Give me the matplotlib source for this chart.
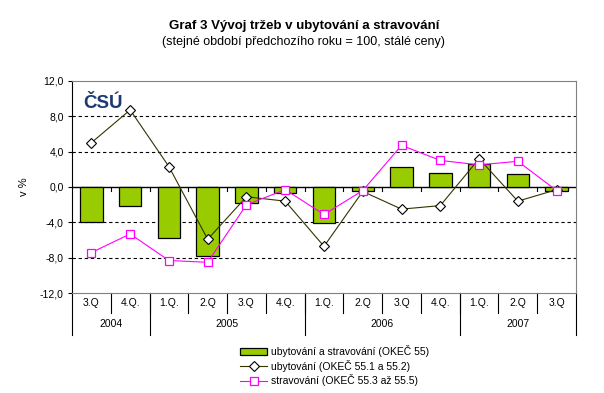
import matplotlib.pyplot as plt
import matplotlib.transforms as mtransforms
import numpy as np

plt.rcParams['font.family'] = ['Liberation Sans', 'DejaVu Sans']

# quarter labels and years
quarters = ["3.Q", "4.Q.", "1.Q.", "2.Q", "3.Q", "4.Q.", "1.Q.",
            "2.Q", "3.Q", "4.Q.", "1.Q.", "2.Q", "3.Q"]
years = ["2004", "2005", "2006", "2007"]
year_counts = [2, 4, 4, 3]

# values (y/y index - 100, %)
total = [-4.0, -2.1, -5.8, -7.8, -1.8, -0.7, -4.1, -0.4, 2.3, 1.6, 2.6, 1.5, -0.4]
ubytovani = [5.0, 8.7, 2.3, -5.9, -1.1, -1.6, -6.7, -0.5, -2.5, -2.1, 3.2, -1.6, -0.3]
stravovani = [-7.4, -5.3, -8.3, -8.5, -2.0, -0.3, -3.1, -0.4, 4.7, 3.0, 2.5, 2.9, -0.4]

fig = plt.figure(figsize=(6.04, 3.93), dpi=100)
ax = fig.add_axes([72 / 604, 1 - 293.3 / 393, 504 / 604, 212.6 / 393])

x = np.arange(len(quarters))
bars = ax.bar(x, total, width=0.58, color="#99CC00", edgecolor="black", linewidth=0.9,
              label="ubytování a stravování (OKEČ 55)", zorder=3)
l1, = ax.plot(x, ubytovani, color="#333300", lw=0.8, marker="D", ms=4.8,
              mfc="white", mec="black", mew=0.8,
              label="ubytování (OKEČ 55.1 a 55.2)", zorder=4)
l2, = ax.plot(x, stravovani, color="#FF00FF", lw=0.8, marker="s", ms=5.5,
              mfc="white", mec="#FF00FF", mew=0.9,
              label="stravování (OKEČ 55.3 až 55.5)", zorder=5)

ax.set_xlim(-0.5, len(quarters) - 0.5)
ax.set_ylim(-12, 12)
yt = np.arange(-12, 13, 4)
ax.set_yticks(yt)
ax.set_yticklabels([f"{v:.1f}".replace(".", ",") for v in yt], fontsize=7.5)
ax.tick_params(axis="y", length=3, width=0.8, pad=3)
for v in [-8, -4, 4, 8]:
    ax.axhline(v, color="black", lw=0.8, ls=(0, (3, 2.5)), zorder=1)
ax.axhline(0, color="black", lw=1.0, zorder=2)
ax.set_xticks([])
ax.set_ylabel("v %", fontsize=8, labelpad=8)

for side in ["top", "right", "bottom"]:
    ax.spines[side].set_color("#808080")
ax.spines["left"].set_color("black")

# ticks on the zero axis between categories
for b in np.arange(0.5, len(quarters) - 0.5, 1.0):
    ax.plot([b, b], [0, -0.5], color="black", lw=0.8, zorder=2)

# multi-level category labels under the plot
trans = mtransforms.blended_transform_factory(ax.transData, ax.transAxes)
row1 = -20 / 212.6
row2 = -42 / 212.6
for i, q in enumerate(quarters):
    ax.text(i, row1 / 2, q, transform=trans, ha="center", va="center", fontsize=7.5)
    if i > 0:
        ax.plot([i - 0.5, i - 0.5], [0, row1], transform=trans, color="black",
                lw=0.8, clip_on=False)
start = -0.5
for yr, n in zip(years, year_counts):
    ax.text(start + n / 2, (row1 + row2) / 2, yr, transform=trans,
            ha="center", va="center", fontsize=7.5)
    ax.plot([start, start], [0, row2], transform=trans, color="black",
            lw=0.8, clip_on=False)
    start += n
ax.plot([start, start], [0, row2], transform=trans, color="black",
        lw=0.8, clip_on=False)

# logo
ax.text(0.022, 0.935, "ČSÚ", transform=ax.transAxes, fontsize=13.5,
        fontweight="heavy", color="#1B3A73", va="top", ha="left")

fig.text(0.503, 0.935, "Graf 3 Vývoj tržeb v ubytování a stravování",
         ha="center", va="center", fontsize=9.5, fontweight="bold")
fig.text(0.503, 0.892, "(stejné období předchozího roku = 100, stálé ceny)",
         ha="center", va="center", fontsize=9)

fig.legend(handles=[bars, l1, l2], loc="upper left",
           bbox_to_anchor=(236 / 604, 1 - 341 / 393),
           frameon=False, fontsize=7.5, handlelength=2.6, handleheight=0.6,
           labelspacing=0.25, borderaxespad=0, handletextpad=0.4)

fig.savefig("out.png", dpi=100)
